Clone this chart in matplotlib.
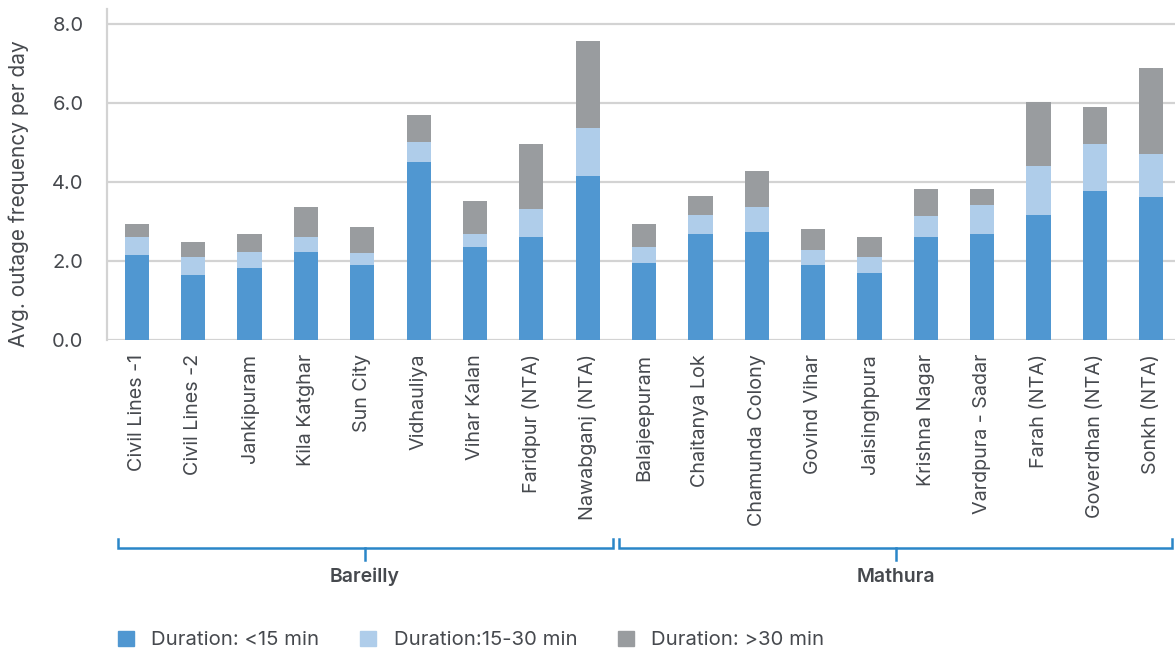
import matplotlib
matplotlib.use("Agg")
import matplotlib.pyplot as plt
import matplotlib.transforms as mtransforms
from matplotlib.patches import Patch
import numpy as np

plt.rcParams['font.family'] = ['Inter', 'DejaVu Sans']

areas = ["Civil Lines -1", "Civil Lines -2", "Jankipuram", "Kila Katghar", "Sun City",
         "Vidhauliya", "Vihar Kalan", "Faridpur (NTA)", "Nawabganj (NTA)",
         "Balajeepuram", "Chaitanya Lok", "Chamunda Colony", "Govind Vihar",
         "Jaisinghpura", "Krishna Nagar", "Vardpura - Sadar", "Farah (NTA)",
         "Goverdhan (NTA)", "Sonkh (NTA)"]
under_15 = [2.16, 1.65, 1.83, 2.23, 1.91, 4.50, 2.36, 2.61, 4.16,
            1.96, 2.68, 2.73, 1.91, 1.70, 2.61, 2.68, 3.18, 3.78, 3.63]
from_15_30 = [0.45, 0.46, 0.40, 0.38, 0.30, 0.52, 0.32, 0.72, 1.20,
              0.40, 0.50, 0.65, 0.37, 0.41, 0.52, 0.75, 1.24, 1.19, 1.08]
over_30 = [0.32, 0.37, 0.45, 0.77, 0.65, 0.68, 0.83, 1.64, 2.22,
           0.57, 0.48, 0.91, 0.53, 0.50, 0.70, 0.40, 1.60, 0.93, 2.17]
groups = ["Bareilly", "Mathura"]
group_sizes = [9, 10]
series_labels = ["Duration: <15 min", "Duration:15-30 min", "Duration: >30 min"]
yticks = [0.0, 2.0, 4.0, 6.0, 8.0]

c_dark = "#5097d1"
c_light = "#afcdea"
c_gray = "#999c9f"
c_grid = "#d3d3d3"
c_text = "#46494e"
c_bracket = "#2a86c8"

fig = plt.figure(figsize=(11.75, 6.53), dpi=100)
ax = fig.add_axes([107/1175, 1-340/653, 1-107/1175, (340-8.5)/653])

x = np.arange(len(areas))
w = 0.43
b1 = np.array(under_15)
b2 = np.array(from_15_30)
b3 = np.array(over_30)
ax.bar(x, b1, w, color=c_dark, zorder=3)
ax.bar(x, b2, w, bottom=b1, color=c_light, zorder=3)
ax.bar(x, b3, w, bottom=b1 + b2, color=c_gray, zorder=3)

ax.set_xlim(-0.53, 18.42)
ax.set_ylim(0, 8.4)
ax.set_yticks(yticks)
ax.set_yticklabels([f"{v:.1f}" for v in yticks], fontsize=14.5, color=c_text)
ax.yaxis.grid(True, color=c_grid, lw=1.6, zorder=0)
ax.set_axisbelow(True)
for s in ["top", "right", "bottom"]:
    ax.spines[s].set_visible(False)
ax.spines["left"].set_color(c_grid)
ax.spines["left"].set_linewidth(1.6)
ax.tick_params(axis="y", length=0, pad=17)
ax.tick_params(axis="x", length=0, pad=10)
ax.set_xticks(x)
ax.set_xticklabels(areas, rotation=90, fontsize=14.2, color=c_text, va="top", ha="center")
fig.text(19/1175, 1-194/653, "Avg. outage frequency per day", rotation=90,
         ha="center", va="center", fontsize=15, color=c_text)

# group brackets
trans = mtransforms.blended_transform_factory(ax.transData, fig.transFigure)
y_line = 1 - 548/653
y_up = 1 - 539/653
y_down = 1 - 560/653
y_lab = 1 - 577/653
start = 0
for g, n in zip(groups, group_sizes):
    left = start - 0.5 + (0.16 if start == 0 else 0.06)
    right = start + n - 0.5 - (0.06 if start == 0 else 0.13)
    ax.plot([left, left, right, right], [y_up, y_line, y_line, y_up], color=c_bracket,
            lw=1.8, transform=trans, clip_on=False, solid_joinstyle="miter")
    mid = (left + right) / 2
    ax.plot([mid, mid], [y_line, y_down], color=c_bracket, lw=1.8, transform=trans, clip_on=False)
    ax.text(mid, y_lab, g, transform=trans, ha="center", va="center", fontsize=14,
            color=c_text, fontweight="semibold")
    start += n

handles = [Patch(color=c_dark), Patch(color=c_light), Patch(color=c_gray)]
fig.legend(handles, series_labels, loc="center left", bbox_to_anchor=(118/1175, 1-640/653),
           ncol=3, frameon=False, fontsize=14.6, labelcolor=c_text, borderpad=0,
           borderaxespad=0, handlelength=0.8, handleheight=0.8, handletextpad=0.85,
           columnspacing=2.0)

fig.savefig("out.png", dpi=100)
